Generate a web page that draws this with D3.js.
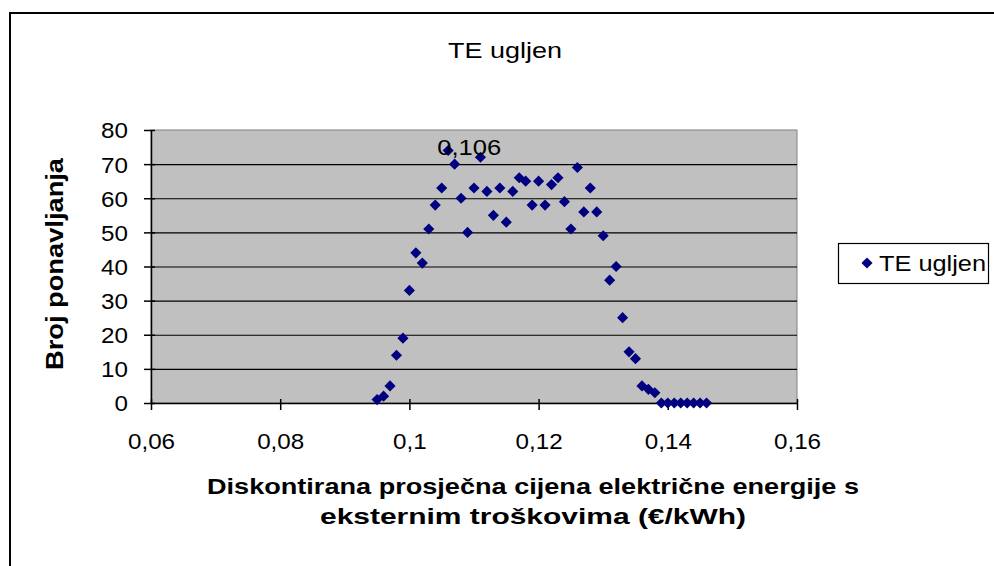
<!DOCTYPE html>
<html><head><meta charset="utf-8">
<script src="https://cdn.jsdelivr.net/npm/d3@7"></script>
<style>html,body{margin:0;padding:0;background:#fff;} svg{display:block;}</style>
</head><body>
<svg id="chart" width="994" height="566"></svg>
<script>
// ---- data ----
const chartTitle = "TE ugljen";
const seriesName = "TE ugljen";
const prices = [0.095,0.096,0.097,0.098,0.099,0.100,0.101,0.102,0.103,0.104,0.105,0.106,0.107,0.108,0.109,0.110,0.111,0.112,0.113,0.114,0.115,0.116,0.117,0.118,0.119,0.120,0.121,0.122,0.123,0.124,0.125,0.126,0.127,0.128,0.129,0.130,0.131,0.132,0.133,0.134,0.135,0.136,0.137,0.138,0.139,0.140,0.141,0.142,0.143,0.144,0.145,0.146];
const counts = [1,2,5,14,19,33,44,41,51,58,63,74,70,60,50,63,72,62,55,63,53,62,66,65,58,65,58,64,66,59,51,69,56,63,56,49,36,40,25,15,13,5,4,3,0,0,0,0,0,0,0,0];
const xTickValues = [0.06,0.08,0.10,0.12,0.14,0.16];
const yTickValues = [0,10,20,30,40,50,60,70,80];
const labelledPrice = 0.106;
const xTitleLines = ["Diskontirana prosječna cijena električne energije s","eksternim troškovima (€/kWh)"];
const yTitle = "Broj ponavljanja";

// ---- layout ----
const svg = d3.select("#chart");
const plot = {left:151, right:797, top:130, bottom:403};
const FONT = "'Liberation Sans', Arial, sans-serif";
const SX = 1.1;
const x = d3.scaleLinear().domain([0.06,0.16]).range([plot.left, plot.right]);
const y = d3.scaleLinear().domain([0,80]).range([plot.bottom, plot.top]);
const fmt = d => String(+d.toFixed(3)).replace(".", ",");

// outer frame
svg.append("path").attr("d", `M10,570 L10,13 L1000,13`).attr("fill","none").attr("stroke","#000").attr("stroke-width",2);

// plot area
svg.append("rect").attr("x",plot.left).attr("y",plot.top).attr("width",plot.right-plot.left).attr("height",plot.bottom-plot.top)
  .attr("fill","#c0c0c0").attr("stroke","#808080").attr("stroke-width",1);

// gridlines
svg.append("g").selectAll("line").data(yTickValues.filter(v=>v>0 && v<80)).join("line")
  .attr("x1",plot.left).attr("x2",plot.right).attr("y1",d=>y(d)+0.5).attr("y2",d=>y(d)+0.5)
  .attr("stroke","#000").attr("stroke-width",1.2);

// axes
const yAxis = svg.append("g").attr("transform",`translate(${plot.left},0)`)
  .call(d3.axisLeft(y).tickValues(yTickValues).tickSizeOuter(0).tickSizeInner(6).tickPadding(10).tickFormat(d=>d));
yAxis.select(".domain").attr("stroke","#000").attr("stroke-width",1.5);
yAxis.selectAll(".tick line").attr("x2",-7).attr("x1",4).attr("stroke","#000").attr("stroke-width",1.5);
yAxis.selectAll(".tick text").attr("font-family",FONT).attr("font-size",22).attr("fill","#000")
  .attr("x",null).attr("transform",`translate(-23,0) scale(${SX},1)`).attr("dy","0.36em");

const xAxis = svg.append("g").attr("transform",`translate(0,${plot.bottom})`)
  .call(d3.axisBottom(x).tickValues(xTickValues).tickSizeOuter(0).tickSizeInner(6).tickPadding(10).tickFormat(fmt));
xAxis.select(".domain").attr("stroke","#000").attr("stroke-width",1.5);
xAxis.selectAll(".tick line").attr("y1",-4).attr("y2",7).attr("stroke","#000").attr("stroke-width",1.5);
xAxis.selectAll(".tick text").attr("font-family",FONT).attr("font-size",22).attr("fill","#000")
  .attr("y",null).attr("dy",null).attr("transform",`translate(0,46) scale(${SX},1)`);

// markers
const diamond = {draw(ctx,size){const r=Math.sqrt(size/2);ctx.moveTo(0,-r);ctx.lineTo(r,0);ctx.lineTo(0,r);ctx.lineTo(-r,0);ctx.closePath();}};
const sym = d3.symbol().type(diamond).size(62);
const pts = prices.map((p,i)=>({p, c:counts[i]}));
svg.append("g").selectAll("path").data(pts).join("path")
  .attr("transform",d=>`translate(${x(d.p)},${y(d.c)})`).attr("d",sym).attr("fill","#000080");

// data label
const lp = pts.find(d=>Math.abs(d.p-labelledPrice)<1e-9);
svg.append("text").attr("x",x(lp.p)+21).attr("y",y(lp.c)+5).attr("text-anchor","middle")
  .attr("font-family",FONT).attr("font-size",22).attr("fill","#000")
  .attr("textLength",64).attr("lengthAdjust","spacingAndGlyphs").text(fmt(lp.p));

// title
svg.append("text").attr("x",505).attr("y",58).attr("text-anchor","middle")
  .attr("font-family",FONT).attr("font-size",22).attr("fill","#000")
  .attr("textLength",114).attr("lengthAdjust","spacingAndGlyphs").text(chartTitle);

// axis titles
svg.append("text").attr("transform","translate(63,264) rotate(-90)").attr("text-anchor","middle")
  .attr("font-family",FONT).attr("font-size",24).attr("font-weight","bold").attr("fill","#000")
  .attr("textLength",212).attr("lengthAdjust","spacingAndGlyphs").text(yTitle);
const xtLengths = [652,426];
svg.append("g").selectAll("text").data(xTitleLines).join("text")
  .attr("x",533).attr("y",(d,i)=>494+i*30).attr("text-anchor","middle")
  .attr("font-family",FONT).attr("font-size",22).attr("font-weight","bold").attr("fill","#000")
  .attr("textLength",(d,i)=>xtLengths[i]).attr("lengthAdjust","spacingAndGlyphs").text(d=>d);

// legend
const lg = svg.append("g").attr("transform","translate(838,243)");
lg.append("rect").attr("x",0.5).attr("y",0.5).attr("width",150).attr("height",40).attr("fill","#fff").attr("stroke","#000").attr("stroke-width",1.2);
lg.append("path").attr("transform","translate(29,20)").attr("d",sym).attr("fill","#000080");
lg.append("text").attr("x",41).attr("y",28).attr("font-family",FONT).attr("font-size",22).attr("fill","#000")
  .attr("textLength",107).attr("lengthAdjust","spacingAndGlyphs").text(seriesName);
</script>
</body></html>
